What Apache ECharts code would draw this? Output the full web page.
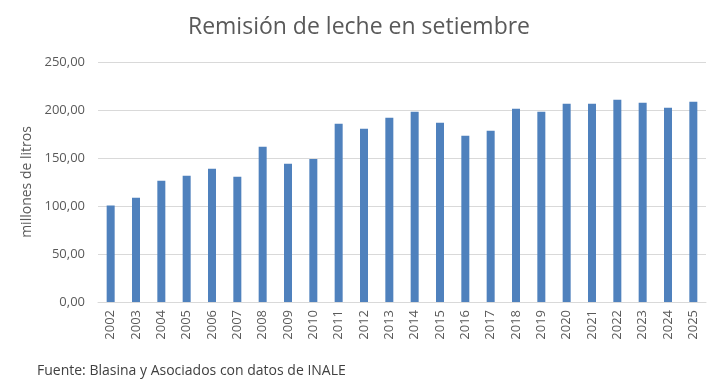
<!DOCTYPE html>
<html><head><meta charset="utf-8">
<script src="https://cdn.jsdelivr.net/npm/echarts@6/dist/echarts.min.js"></script>
<style>html,body{margin:0;padding:0;background:#fff}#c{width:718px;height:387px}</style>
</head><body><div id="c"></div>
<script>
const years = ["2002","2003","2004","2005","2006","2007","2008","2009","2010","2011","2012","2013","2014","2015","2016","2017","2018","2019","2020","2021","2022","2023","2024","2025"];
const remision = [100.4,108.6,126.4,131.6,138.9,130.5,161.8,144.1,149.0,185.7,180.5,192.0,198.2,186.8,173.2,178.4,201.4,198.2,206.6,206.6,210.7,207.6,202.4,208.6];
const titleText = "Remisión de leche en setiembre";
const yAxisName = "millones de litros";
const sourceText = "Fuente: Blasina y Asociados con datos de INALE";

const chart = echarts.init(document.getElementById('c'), null, {renderer:'canvas'});
const font = "'Open Sans', 'Noto Sans', sans-serif";
chart.setOption({
  animation:false,
  textStyle:{fontFamily:font},
  title:[
    {text:titleText,left:'center',top:11,textStyle:{fontFamily:font,fontSize:23,fontWeight:'normal',color:'#595959'}},
    {text:sourceText,left:32,top:359,textStyle:{fontFamily:font,fontSize:14,fontWeight:'normal',color:'#404040'}}
  ],
  grid:{left:98,right:12,top:62,bottom:85,containLabel:false},
  xAxis:{type:'category',data:years,
    axisLine:{lineStyle:{color:'#d9d9d9',width:1}},axisTick:{show:false},
    axisLabel:{rotate:90,color:'#595959',fontSize:13,margin:8,fontFamily:font,interval:0}},
  yAxis:{type:'value',min:0,max:250,interval:50,
    name:yAxisName,nameLocation:'middle',nameGap:57,nameRotate:90,
    nameTextStyle:{color:'#595959',fontSize:14,fontFamily:font},
    axisLine:{show:false},axisTick:{show:false},
    splitLine:{lineStyle:{color:'#d9d9d9',width:1}},
    axisLabel:{color:'#595959',fontSize:13,margin:13,fontFamily:font,
      formatter:v=>v.toFixed(2).replace('.',',')}},
  series:[{type:'bar',data:remision,barWidth:8,itemStyle:{color:'#4f81bd'}}]
});
</script></body></html>
